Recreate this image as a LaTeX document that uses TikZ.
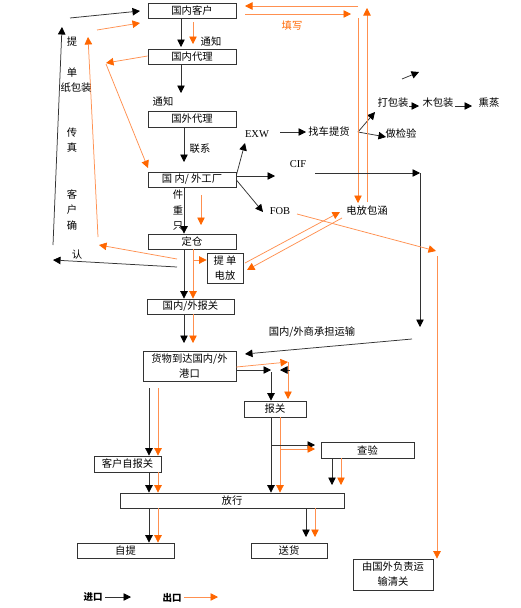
\documentclass[tikz,border=0pt]{standalone}
\usepackage{fontspec}
\setmainfont{Noto Sans CJK SC}
\newfontfamily\latinf{Liberation Serif}
\usetikzlibrary{arrows.meta}
\definecolor{org}{HTML}{FF6600}
\definecolor{orgl}{HTML}{FF9050}
\definecolor{ln}{HTML}{333333}
\tikzset{
  box/.style={draw=ln, line width=0.8pt, inner sep=0pt, align=center,
    font=\fontsize{10.3}{15}\selectfont},
  lbl/.style={inner sep=0pt, font=\fontsize{10.3}{12}\selectfont},
  lat/.style={inner sep=0pt, font=\latinf\fontsize{10.5}{12}\selectfont},
  bk/.style={draw=ln, line width=0.75pt, -{Triangle[width=7.5pt,length=7.5pt,color=black]}},
  og/.style={draw=orgl, line width=0.75pt, -{Triangle[width=7.5pt,length=7.5pt,color=org]}},
  ogl/.style={draw=orgl, line width=0.75pt},
  bkl/.style={draw=ln, line width=0.75pt}
}
\begin{document}
\begin{tikzpicture}[x=1pt,y=-1pt]
\useasboundingbox (0,0) rectangle (520,608);
% boxes
\node[box, minimum width=88pt, minimum height=15pt] (kh) at (192,10.5) {国内客户};
\node[box, minimum width=88pt, minimum height=15pt] (ndl) at (192,56.5) {国内代理};
\node[box, minimum width=88pt, minimum height=16pt] (wdl) at (192,119) {国外代理};
\node[box, minimum width=88pt, minimum height=15pt] (gc) at (192,179.5) {国\ 内/\ 外工厂};
\node[box, minimum width=88pt, minimum height=15pt] (dc) at (192,241.5) {定仓};
\node[box, minimum width=36pt, minimum height=30pt] (td) at (225,268) {提\ 单\\电放};
\node[box, minimum width=87pt, minimum height=15pt] (bg) at (190.5,306.5) {国内/外报关};
\node[box, minimum width=93pt, minimum height=30pt] (hw) at (189.5,366) {货物到达国内/外\\港口};
\node[box, minimum width=62pt, minimum height=16pt] (bgs) at (275,409) {报关};
\node[box, minimum width=93pt, minimum height=16pt] (cy) at (367.5,450) {查验};
\node[box, minimum width=67pt, minimum height=16pt] (kz) at (127.5,464) {客户自报关};
\node[box, minimum width=224pt, minimum height=15pt] (fx) at (232,500.5) {放行};
\node[box, minimum width=97pt, minimum height=15pt] (zt) at (125.5,550.5) {自提};
\node[box, minimum width=76pt, minimum height=15pt] (sh) at (289,550.5) {送货};
\node[box, minimum width=80pt, minimum height=31pt] (gw) at (393,574.5) {由国外负责运\\输清关};

% top chain
\draw[bk] (181,0 |- kh.south) -- (181,47);
\draw[og] (193,22) -- (193,44);
\node[lbl] (tz1) at (211,42) {通知};
\draw[bk] (181,0 |- ndl.south) -- (181,93);
\node[lbl] (tz2) at (163,102) {通知};
\draw[bk] (184,0 |- wdl.south) -- (184,162);
\node[lbl] (lx) at (200,149) {联系};

% left side
\draw[bk] (53,245) -- (62,27);
\draw[bk] (70,18) -- (140,11);
\draw[og] (98,237) -- (88,37);
\draw[og] (97,30) -- (140,23);
\draw[og] (ndl.west |- 0,56) -- (106,63);
\draw[og] (106,64) -- (148,168);
\draw[og] (177,259) -- (99,245);
\draw[bk] (177,267) -- (53,260);
\node[lbl] (t1) at (72,42) {提};
\node[lbl] (t2) at (72,73) {单};
\node[lbl] (t3) at (76,88) {纸包装};
\node[lbl] (t4) at (72,133) {传};
\node[lbl] (t5) at (72,148) {真};
\node[lbl] (t6) at (72,195) {客};
\node[lbl] (t7) at (72,210) {户};
\node[lbl] (t8) at (72,226) {确};
\node[lbl] (t9) at (77,255) {认};

% factory
\draw[bk] (184,0 |- gc.south) -- (184,0 |- dc.north);
\node[lbl] (j1) at (178,195) {件};
\node[lbl] (j2) at (178,210) {重};
\node[lbl] (j3) at (178,226) {只};
\draw[og] (201,195) -- (201,225);
\draw[bk] (gc.east |- 0,175) -- (245,143);
\draw[bk] (gc.east |- 0,176) -- (275,176);
\draw[bk] (gc.east |- 0,180) -- (263,212);
\node[lat] (exw) at (257,134) {EXW};
\node[lat] (cif) at (298,164) {CIF};
\node[lat] (fob) at (280,211) {FOB};
\draw[bk] (280,132) -- (306,132);
\node[lbl] (zc) at (329,132) {找车提货};
\draw[bk] (358,132) -- (375,112);
\draw[bk] (358,132) -- (386,137);
\node[lbl] (db) at (393,103) {打包装};
\node[lbl] (mb) at (438,103) {木包装};
\node[lbl] (xz) at (489,103) {熏蒸};
\node[lbl] (zj) at (401,134) {做检验};
\draw[bk] (409,106) -- (419,106);
\draw[bk] (455,106) -- (472,106);
\draw[bk] (402,79) -- (419,72);

% 填写
\draw[og] (358,6) -- (245,6);
\draw[og] (245,14) -- (351,14);
\node[lbl, text=org] (tx) at (292,26) {填写};
\draw[og] (358,18) -- (358,203);
\draw[og] (367,202) -- (367,8);
\node[lbl] (dfb) at (367,211) {电放包涵};

% CIF route
\draw[bk] (315,173) -- (420,173);
\draw[bkl] (420,173) -- (420,320);
\draw[bk] (420,300) -- (420,327);
\node[lbl] (ys) at (312,332) {国内/外商承担运输};
\draw[bk] (412,339) -- (245,354);

% FOB route
\draw[og] (297,214) -- (436,251);
\draw[og] (437,256) -- (437,0 |- gw.north);

% 提单电放 <-> 电放包涵
\draw[og] (245,263) -- (340,212);
\draw[og] (342,218) -- (247,270);

% 定仓 down
\draw[bk] (184,0 |- dc.south) -- (184,0 |- bg.north);
\draw[og] (193,0 |- dc.south) -- (193,0 |- bg.north);
\draw[og] (193,260) -- (td.west |- 0,260);

% 报关 down
\draw[bk] (184,0 |- bg.south) -- (184,343);
\draw[og] (193,0 |- bg.south) -- (193,343);

% 货物到达 right
\draw[og] (hw.east |- 0,367) -- (288,362);
\draw[og] (288,362) -- (288,399);
\draw[bk] (hw.east |- 0,370) -- (271,370);
\draw[bk] (290,370) -- (280,370);
\draw[bk] (271,372) -- (271,0 |- bgs.north);

% below 货物到达
\draw[bk] (149,388) -- (149,0 |- kz.north);
\draw[og] (158,388) -- (158,0 |- kz.north);
\draw[bk] (149,0 |- kz.south) -- (149,0 |- fx.north);
\draw[og] (158,0 |- kz.south) -- (158,0 |- fx.north);
\draw[bk] (149,0 |- fx.south) -- (149,0 |- zt.north);
\draw[og] (158,0 |- fx.south) -- (158,0 |- zt.north);

% 报关 (right) down
\draw[bk] (271,0 |- bgs.south) -- (271,0 |- fx.north);
\draw[og] (280,0 |- bgs.south) -- (280,0 |- fx.north);
\draw[bk] (271,445) -- (315,445);
\draw[og] (280,449) -- (315,449);

% 查验 down
\draw[bk] (332,0 |- cy.south) -- (332,485);
\draw[og] (341,0 |- cy.south) -- (341,485);

% 放行 -> 送货
\draw[bk] (306,0 |- fx.south) -- (306,537);
\draw[og] (315,0 |- fx.south) -- (315,537);

% legend
\node[lbl, font=\bfseries\fontsize{9.5}{12}\selectfont] (jk) at (93,597) {进口};
\draw[bk] (105,597) -- (131,597);
\node[lbl, font=\bfseries\fontsize{9.5}{12}\selectfont] (ck) at (172,598) {出口};
\draw[og] (184,597) -- (218,597);
\end{tikzpicture}
\end{document}
